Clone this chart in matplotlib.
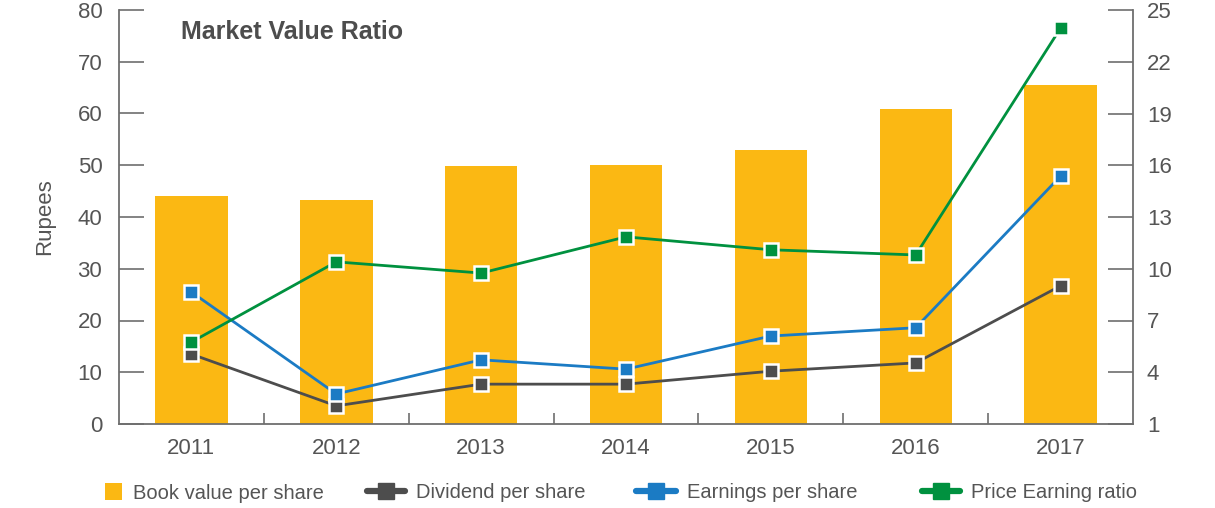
import matplotlib
matplotlib.use("Agg")
import matplotlib.pyplot as plt
from matplotlib.lines import Line2D
from matplotlib.patches import Patch

years = ["2011", "2012", "2013", "2014", "2015", "2016", "2017"]
book_value = [44.1, 43.3, 49.9, 50.0, 52.9, 60.9, 65.5]
dividend = [13.5, 3.5, 7.7, 7.7, 10.2, 11.8, 26.7]
eps = [25.5, 5.8, 12.4, 10.6, 17.0, 18.6, 47.9]
pe_ratio = [5.75, 10.4, 9.75, 11.85, 11.1, 10.8, 23.95]

left_ticks = [0, 10, 20, 30, 40, 50, 60, 70, 80]
right_ticks = [1, 4, 7, 10, 13, 16, 19, 22, 25]

C_BAR = "#FBB813"
C_DIV = "#4D4D4D"
C_EPS = "#1B7BC4"
C_PE = "#00913F"
C_TXT = "#555555"
C_AX = "#6E6E6E"

plt.rcParams['font.family'] = ['Liberation Sans', 'DejaVu Sans']

fig = plt.figure(figsize=(12.15, 5.08), dpi=100)
ax = fig.add_axes([119/1215, 1-424/508, (1133-119)/1215, (424-10)/508])
ax2 = ax.twinx()

x = list(range(len(years)))
ax.bar(x, book_value, width=0.5, color=C_BAR, zorder=1)

mk = dict(marker='s', markersize=10, markeredgecolor='white', markeredgewidth=1.8)
ax.plot(x, dividend, color=C_DIV, lw=2, zorder=3, **mk)
ax.plot(x, eps, color=C_EPS, lw=2, zorder=4, **mk)
ax2.plot(x, pe_ratio, color=C_PE, lw=2, zorder=5, **mk)

ax.set_xlim(-0.5, len(years) - 0.5)
ax.set_ylim(0, 80)
ax2.set_ylim(1, 25)
ax.set_yticks(left_ticks)
ax2.set_yticks(right_ticks)
ax.set_xticks(x)
ax.set_xticklabels(years)
ax.set_xticks([i + 0.5 for i in range(len(years) - 1)], minor=True)

for a in (ax, ax2):
    a.spines['top'].set_visible(False)
    for s in ('left', 'right', 'bottom'):
        a.spines[s].set_color(C_AX)
        a.spines[s].set_linewidth(1.3)

ax.spines['right'].set_visible(False)
ax2.spines['left'].set_visible(False)
ax2.spines['bottom'].set_visible(False)

ax.tick_params(axis='y', direction='in', length=18, width=1.2, color=C_AX,
               labelsize=16, labelcolor=C_TXT, pad=12)
ax2.tick_params(axis='y', direction='in', length=18, width=1.2, color=C_AX,
                labelsize=16, labelcolor=C_TXT, pad=10)
ax.tick_params(axis='x', which='major', length=0, labelsize=16, labelcolor=C_TXT, pad=10)
ax.tick_params(axis='x', which='minor', direction='in', length=8, width=1.2, color=C_AX)

ax.set_ylabel("Rupees", fontsize=16, color=C_TXT, labelpad=16)
ax.text(0.061, 0.975, "Market Value Ratio", transform=ax.transAxes, fontsize=18,
        fontweight='bold', color="#4D4D4D", va='top', ha='left')

# Legend, four separate items placed along the bottom
items = [
    (Patch(facecolor=C_BAR, edgecolor='none'), "Book value per share", 105, 0.85),
    (Line2D([], [], color=C_DIV, lw=4.5, marker='s', markersize=11, solid_capstyle='round'),
     "Dividend per share", 367, 1.9),
    (Line2D([], [], color=C_EPS, lw=4.5, marker='s', markersize=11, solid_capstyle='round'),
     "Earnings per share", 636, 2.0),
    (Line2D([], [], color=C_PE, lw=4.5, marker='s', markersize=11, solid_capstyle='round'),
     "Price Earning ratio", 922, 1.9),
]
for h, lab, px, hl in items:
    kw = {}
    if isinstance(h, Patch):
        kw = dict(handleheight=0.9)
    fig.legend([h], [lab], loc='center left', bbox_to_anchor=(px/1215, 1-493/508),
               frameon=False, fontsize=14.5, handlelength=hl, handletextpad=0.55,
               borderpad=0, borderaxespad=0, labelcolor=C_TXT, **kw)

fig.savefig("out.png", dpi=100)
